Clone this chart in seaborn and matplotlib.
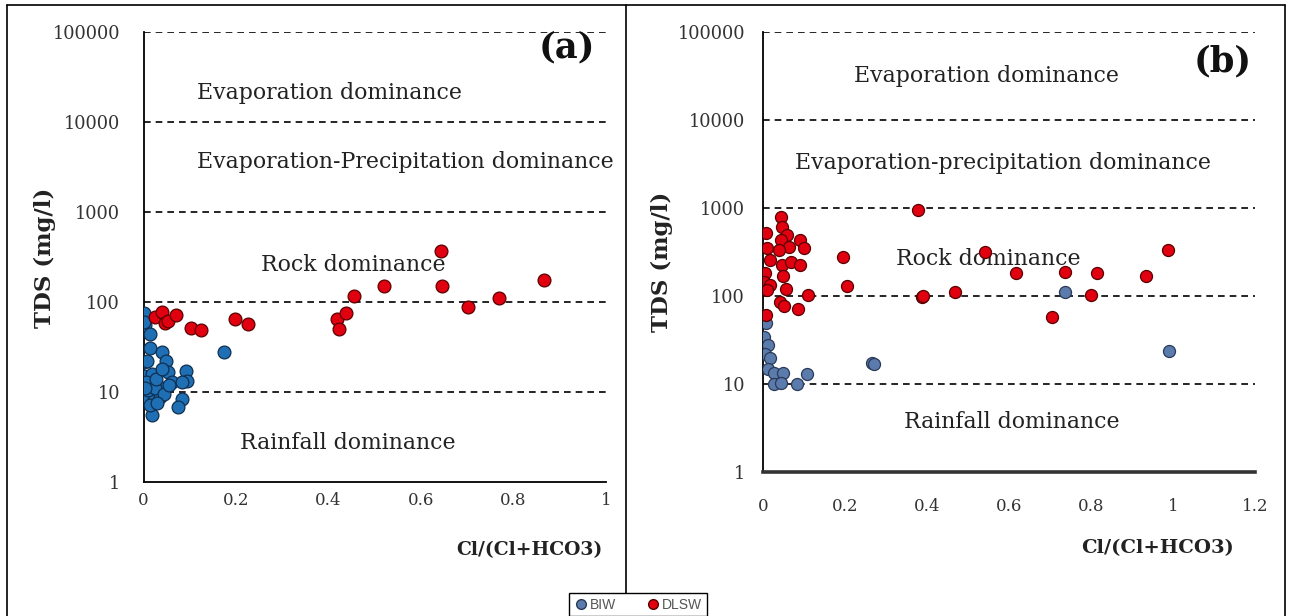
import numpy as np
import pandas as pd
import seaborn as sns
import matplotlib.pyplot as plt
from matplotlib.lines import Line2D
from matplotlib.ticker import FixedLocator, FixedFormatter

# ---------------- data ----------------
# Panel (a)
a_biw_x = [0.0, 0.004, 0.013, 0.015, 0.040, 0.0, 0.008, 0.049, 0.054, 0.0, 0.018, 0.006,
           0.032, 0.061, 0.092, 0.095, 0.083, 0.008, 0.022, 0.036, 0.083, 0.075, 0.018, 0.173,
           0.002, 0.010, 0.025, 0.028, 0.045, 0.040, 0.015, 0.055, 0.003, 0.030]
a_biw_y = [75, 56, 44, 31, 28, 21.5, 22, 22, 16.5, 15, 16, 12.8,
           11.8, 12.8, 17, 13.3, 13, 8.4, 8.1, 8.8, 8.4, 6.8, 5.5, 28,
           60, 10.5, 11, 14, 9.5, 18, 7.2, 12, 11, 7.6]
a_dlsw_x = [0.025, 0.039, 0.046, 0.053, 0.070, 0.102, 0.124, 0.197, 0.226, 0.418, 0.423,
            0.438, 0.455, 0.521, 0.643, 0.645, 0.701, 0.769, 0.867]
a_dlsw_y = [68, 78, 59, 62, 72, 52, 49, 65, 57, 65, 50,
            76, 116, 150, 373, 150, 87, 110, 175]

# Panel (b)
b_biw_x = [0.007, 0.002, 0.013, 0.005, 0.017, 0.013, 0.026, 0.049, 0.026, 0.044, 0.082,
           0.107, 0.265, 0.270, 0.737, 0.991]
b_biw_y = [49, 34.5, 27.7, 22, 19.6, 15, 13.2, 13.4, 10, 10.2, 10,
           13, 17.2, 17.0, 110, 24]
b_dlsw_x = [0.379, 0.044, 0.047, 0.007, 0.059, 0.044, 0.090, 0.100, 0.063, 0.038, 0.009,
            0.016, 0.047, 0.069, 0.090, 0.049, 0.005, 0.002, 0.017, 0.055, 0.009, 0.110,
            0.042, 0.052, 0.085, 0.007, 0.196, 0.206, 0.387, 0.391, 0.468, 0.541, 0.617,
            0.737, 0.704, 0.815, 0.800, 0.934, 0.987]
b_dlsw_y = [949, 783, 614, 516, 493, 433, 428, 348, 363, 333, 348,
            256, 225, 245, 225, 169, 181, 146, 133, 119, 117, 103,
            86, 77, 71, 61, 280, 130, 98, 100, 110, 318, 181,
            189, 57, 181, 103, 170, 333]

y_ticks = [1, 10, 100, 1000, 10000, 100000]
y_tick_labels = ["1", "10", "100", "1000", "10000", "100000"]
a_x_ticks = [0, 0.2, 0.4, 0.6, 0.8, 1]
a_x_tick_labels = ["0", "0.2", "0.4", "0.6", "0.8", "1"]
b_x_ticks = [0, 0.2, 0.4, 0.6, 0.8, 1, 1.2]
b_x_tick_labels = ["0", "0.2", "0.4", "0.6", "0.8", "1", "1.2"]

groups = ["BIW", "DLSW"]
a_zones = ["Evaporation dominance", "Evaporation-Precipitation dominance",
           "Rock dominance", "Rainfall dominance"]
b_zones = ["Evaporation dominance", "Evaporation-precipitation dominance",
           "Rock dominance", "Rainfall dominance"]
boundaries = [10, 100, 1000, 10000, 100000]

# ---------------- style ----------------
sns.set_theme(style="white")
plt.rcParams['font.family'] = ['DejaVu Serif']

W, H = 1291, 616
fig = plt.figure(figsize=(W / 100, H / 100), dpi=100)
fig.patch.set_facecolor("white")

def fx(px):
    return px / W

def fy(py):
    return 1 - py / H

axa = fig.add_axes([fx(143.5), fy(482), fx(606) - fx(143.5), fy(32) - fy(482)])
axb = fig.add_axes([fx(763), fy(472), fx(1255) - fx(763), fy(32) - fy(472)])

df_a = pd.DataFrame({
    "ratio": a_biw_x + a_dlsw_x,
    "tds": a_biw_y + a_dlsw_y,
    "group": ["BIW"] * len(a_biw_x) + ["DLSW"] * len(a_dlsw_x),
})
df_b = pd.DataFrame({
    "ratio": b_biw_x + b_dlsw_x,
    "tds": b_biw_y + b_dlsw_y,
    "group": ["BIW"] * len(b_biw_x) + ["DLSW"] * len(b_dlsw_x),
})

style_a = {"BIW": ("#1f6fb4", "#0f2f50"), "DLSW": ("#e0000f", "#5a0000")}
style_b = {"BIW": ("#5a7bab", "#2a3a58"), "DLSW": ("#e0000f", "#5a0000")}


def setup(ax, df, styles, xmax, xticks, xlabels, size, ypad, xpad, bottom_lw, bottom_col):
    ax.set_yscale("log")
    for b in boundaries:
        ax.axhline(b, color="black", lw=1.2, ls=(0, (4, 3)), zorder=1)
    for g in groups:
        sub = df[df["group"] == g]
        fc, ec = styles[g]
        sns.scatterplot(data=sub, x="ratio", y="tds", color=fc, edgecolor=ec,
                        linewidth=0.9, s=size, ax=ax, legend=False, zorder=3)
    ax.set_xlim(0, xmax)
    ax.set_ylim(1, 100000)
    ax.yaxis.set_major_locator(FixedLocator(y_ticks))
    ax.yaxis.set_major_formatter(FixedFormatter(y_tick_labels))
    ax.yaxis.set_minor_locator(FixedLocator([]))
    ax.set_xticks(xticks)
    ax.set_xticklabels(xlabels)
    ax.tick_params(axis="y", length=0, pad=ypad, labelsize=12.8, labelcolor="#333333")
    ax.tick_params(axis="x", length=0, pad=xpad, labelsize=12, labelcolor="#333333")
    ax.set_xlabel("")
    ax.set_ylabel("")
    for s in ["top", "right"]:
        ax.spines[s].set_visible(False)
    ax.spines["left"].set_color("black")
    ax.spines["left"].set_linewidth(1.3)
    ax.spines["bottom"].set_color(bottom_col)
    ax.spines["bottom"].set_linewidth(bottom_lw)
    ax.set_facecolor("none")


setup(axa, df_a, style_a, 1.0, a_x_ticks, a_x_tick_labels, 85, 17, 7, 1.3, "black")
setup(axb, df_b, style_b, 1.2, b_x_ticks, b_x_tick_labels, 75, 13, 19, 2.6, "#333333")

zone_fs = 15.8
# zone texts panel (a)
axa.text(0.403, 10 ** 4.32, a_zones[0], ha="center", va="center", fontsize=zone_fs, color="#222222", zorder=2)
axa.text(0.567, 10 ** 3.556, a_zones[1], ha="center", va="center", fontsize=zone_fs, color="#222222", zorder=2)
axa.text(0.453, 10 ** 2.41, a_zones[2], ha="center", va="center", fontsize=zone_fs, color="#222222", zorder=2)
axa.text(0.442, 10 ** 0.433, a_zones[3], ha="center", va="center", fontsize=zone_fs, color="#222222", zorder=2)
axa.text(0.915, 10 ** 4.83, "(a)", ha="center", va="center", fontsize=25.5, fontweight="bold", color="#111111")

# zone texts panel (b)
axb.text(0.544, 10 ** 4.5, b_zones[0], ha="center", va="center", fontsize=zone_fs, color="#222222", zorder=2)
axb.text(0.585, 10 ** 3.511, b_zones[1], ha="center", va="center", fontsize=zone_fs, color="#222222", zorder=2)
axb.text(0.549, 10 ** 2.42, b_zones[2], ha="center", va="center", fontsize=zone_fs, color="#222222", zorder=2)
axb.text(0.607, 10 ** 0.568, b_zones[3], ha="center", va="center", fontsize=zone_fs, color="#222222", zorder=2)
axb.text(1.12, 10 ** 4.66, "(b)", ha="center", va="center", fontsize=25.5, fontweight="bold", color="#111111")

# axis titles
fig.text(fx(45), fy(258), "TDS (mg/l)", rotation=90, ha="center", va="center",
         fontsize=16.5, fontweight="bold", color="#222222")
fig.text(fx(662), fy(262), "TDS (mg/l)", rotation=90, ha="center", va="center",
         fontsize=16.5, fontweight="bold", color="#222222")
fig.text(fx(529), fy(550), "Cl/(Cl+HCO3)", ha="center", va="center",
         fontsize=13.5, fontweight="bold", color="#222222")
fig.text(fx(1157), fy(548), "Cl/(Cl+HCO3)", ha="center", va="center",
         fontsize=14, fontweight="bold", color="#222222")

# outer frame and divider
frame_kw = dict(color="black", lw=1.2, transform=fig.transFigure, clip_on=False)
fig.add_artist(Line2D([fx(7), fx(1285)], [fy(5), fy(5)], **frame_kw))
fig.add_artist(Line2D([fx(7), fx(7)], [fy(5), fy(616)], **frame_kw))
fig.add_artist(Line2D([fx(1285), fx(1285)], [fy(5), fy(616)], **frame_kw))
fig.add_artist(Line2D([fx(626), fx(626)], [fy(5), fy(616)], **frame_kw))

# legend
handles = [
    Line2D([], [], marker="o", ls="", markersize=7, markerfacecolor=style_b["BIW"][0],
           markeredgecolor=style_b["BIW"][1], label="BIW"),
    Line2D([], [], marker="o", ls="", markersize=7, markerfacecolor=style_b["DLSW"][0],
           markeredgecolor=style_b["DLSW"][1], label="DLSW"),
]
leg = fig.legend(handles=handles, loc="lower center", bbox_to_anchor=(fx(638), -0.012),
                 ncol=2, frameon=True, fancybox=False, handletextpad=0.1,
                 columnspacing=2.2, borderpad=0.35, handlelength=1.0,
                 prop={"family": "Liberation Sans", "size": 10})
leg.get_frame().set_edgecolor("black")
leg.get_frame().set_linewidth(1.0)
leg.get_frame().set_facecolor("white")
leg.get_frame().set_alpha(1)
for t in leg.get_texts():
    t.set_color("#555555")

fig.savefig("out.png", dpi=100, facecolor="white")
